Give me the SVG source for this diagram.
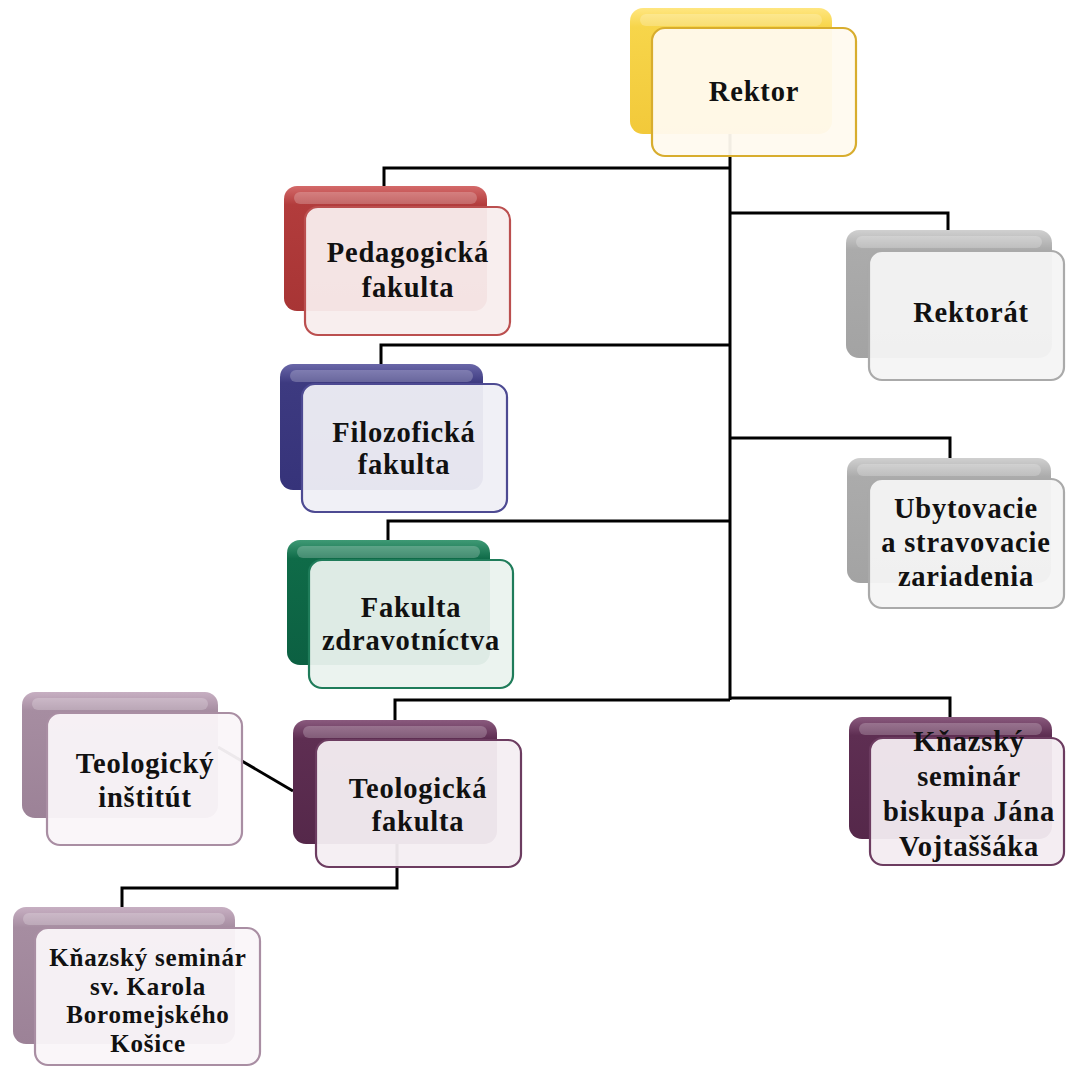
<svg xmlns="http://www.w3.org/2000/svg" width="1066" height="1067" viewBox="0 0 1066 1067">
<style>
.conn{fill:none;stroke:#000;stroke-width:3;stroke-linejoin:miter}
.hl{fill:#fff;opacity:0.22}
.front{stroke-width:2.2;fill-opacity:0.95}
text{font-family:"Liberation Serif","DejaVu Serif",serif;font-weight:bold;font-size:28.5px;fill:#111;text-anchor:middle;letter-spacing:0.8px}
.sm{font-size:25px}
</style>
<defs>
<linearGradient id="gY" x1="0" y1="0" x2="0" y2="1"><stop offset="0" stop-color="#ffe680"/><stop offset="0.15" stop-color="#f7d54a"/><stop offset="1" stop-color="#f2c93a"/></linearGradient>
<linearGradient id="gR" x1="0" y1="0" x2="0" y2="1"><stop offset="0" stop-color="#d46a6a"/><stop offset="0.15" stop-color="#b23c3c"/><stop offset="1" stop-color="#a83535"/></linearGradient>
<linearGradient id="gB" x1="0" y1="0" x2="0" y2="1"><stop offset="0" stop-color="#6a67a8"/><stop offset="0.15" stop-color="#3d3a80"/><stop offset="1" stop-color="#36337a"/></linearGradient>
<linearGradient id="gG" x1="0" y1="0" x2="0" y2="1"><stop offset="0" stop-color="#3f9a75"/><stop offset="0.15" stop-color="#0f6b48"/><stop offset="1" stop-color="#0c6042"/></linearGradient>
<linearGradient id="gP" x1="0" y1="0" x2="0" y2="1"><stop offset="0" stop-color="#8a5a7e"/><stop offset="0.15" stop-color="#5e2e52"/><stop offset="1" stop-color="#55284a"/></linearGradient>
<linearGradient id="gM" x1="0" y1="0" x2="0" y2="1"><stop offset="0" stop-color="#c7afc2"/><stop offset="0.15" stop-color="#a68da1"/><stop offset="1" stop-color="#9c8297"/></linearGradient>
<linearGradient id="gS" x1="0" y1="0" x2="0" y2="1"><stop offset="0" stop-color="#d0d0d0"/><stop offset="0.15" stop-color="#ababab"/><stop offset="1" stop-color="#a3a3a3"/></linearGradient>
</defs>

<g id="connectors">
<polyline class="conn" points="730,132 730,700"/>
<polyline class="conn" points="384,186 384,168 730,168"/>
<polyline class="conn" points="730,213 948,213 948,230"/>
<polyline class="conn" points="381,364 381,345 730,345"/>
<polyline class="conn" points="730,438 950,438 950,458"/>
<polyline class="conn" points="388,540 388,521 730,521"/>
<polyline class="conn" points="395,720 395,700 730,700"/>
<polyline class="conn" points="730,698 950,698 950,717"/>
<line class="conn" x1="218" y1="747" x2="293" y2="791"/>
<polyline class="conn" points="397,843 397,888 122,888 122,907"/>
</g>

<g id="rektor">
<rect x="630" y="8" width="202" height="126" rx="13" fill="url(#gY)"/>
<rect class="hl" x="640" y="14" width="182" height="12" rx="6"/>
<rect class="front" x="652" y="28" width="204" height="128" rx="13" fill="#fffaef" stroke="#d8ad2e"/>
<text x="754" y="101">Rektor</text>
</g>

<g id="pedagogicka">
<rect x="284" y="186" width="203" height="125" rx="13" fill="url(#gR)"/>
<rect class="hl" x="294" y="192" width="183" height="12" rx="6"/>
<rect class="front" x="305" y="207" width="205" height="128" rx="13" fill="#f8eded" stroke="#bb4f4f"/>
<text x="408" y="262">Pedagogická</text>
<text x="408" y="297">fakulta</text>
</g>

<g id="filozoficka">
<rect x="280" y="364" width="203" height="126" rx="13" fill="url(#gB)"/>
<rect class="hl" x="290" y="370" width="183" height="12" rx="6"/>
<rect class="front" x="302" y="384" width="205" height="128" rx="13" fill="#efeff6" stroke="#4d4a92"/>
<text x="404" y="442">Filozofická</text>
<text x="404" y="474">fakulta</text>
</g>

<g id="zdravotnictvo">
<rect x="287" y="540" width="203" height="125" rx="13" fill="url(#gG)"/>
<rect class="hl" x="297" y="546" width="183" height="12" rx="6"/>
<rect class="front" x="309" y="560" width="204" height="128" rx="13" fill="#eaf2ee" stroke="#1f7c5a"/>
<text x="411" y="617">Fakulta</text>
<text x="411" y="650">zdravotníctva</text>
</g>

<g id="teologicka">
<rect x="293" y="720" width="204" height="124" rx="13" fill="url(#gP)"/>
<rect class="hl" x="303" y="726" width="184" height="12" rx="6"/>
<rect class="front" x="316" y="740" width="205" height="127" rx="13" fill="#f4eef2" stroke="#6c3c60"/>
<text x="418" y="798">Teologická</text>
<text x="418" y="831">fakulta</text>
</g>

<g id="institut">
<rect x="22" y="692" width="196" height="126" rx="13" fill="url(#gM)"/>
<rect class="hl" x="32" y="698" width="176" height="12" rx="6"/>
<rect class="front" x="47" y="713" width="195" height="132" rx="13" fill="#faf6f9" stroke="#a98ea3"/>
<text x="145" y="773">Teologický</text>
<text x="145" y="807">inštitút</text>
</g>

<g id="karola">
<rect x="13" y="907" width="222" height="137" rx="13" fill="url(#gM)"/>
<rect class="hl" x="23" y="913" width="202" height="12" rx="6"/>
<rect class="front" x="35" y="928" width="225" height="137" rx="13" fill="#faf6f9" stroke="#a98ea3"/>
<text class="sm" x="148" y="966">Kňazský seminár</text>
<text class="sm" x="148" y="995">sv. Karola</text>
<text class="sm" x="148" y="1023">Boromejského</text>
<text class="sm" x="148" y="1052">Košice</text>
</g>

<g id="rektorat">
<rect x="846" y="230" width="206" height="128" rx="13" fill="url(#gS)"/>
<rect class="hl" x="856" y="236" width="186" height="12" rx="6"/>
<rect class="front" x="869" y="251" width="195" height="129" rx="13" fill="#f4f4f4" stroke="#aaaaaa"/>
<text x="971" y="322">Rektorát</text>
</g>

<g id="ubytovacie">
<rect x="847" y="458" width="204" height="125" rx="13" fill="url(#gS)"/>
<rect class="hl" x="857" y="464" width="184" height="12" rx="6"/>
<rect class="front" x="869" y="479" width="195" height="129" rx="13" fill="#f4f4f4" stroke="#aaaaaa"/>
<text x="966" y="518">Ubytovacie</text>
<text x="966" y="552">a stravovacie</text>
<text x="966" y="586">zariadenia</text>
</g>

<g id="seminar-biskupa">
<rect x="849" y="717" width="203" height="122" rx="13" fill="url(#gP)"/>
<rect class="hl" x="859" y="723" width="183" height="12" rx="6"/>
<rect class="front" x="870" y="738" width="194" height="127" rx="13" fill="#f3ecf1" stroke="#6c3c60"/>
<text x="969" y="751">Kňazský</text>
<text x="969" y="786">seminár</text>
<text x="969" y="821">biskupa Jána</text>
<text x="969" y="856">Vojtaššáka</text>
</g>
</svg>
